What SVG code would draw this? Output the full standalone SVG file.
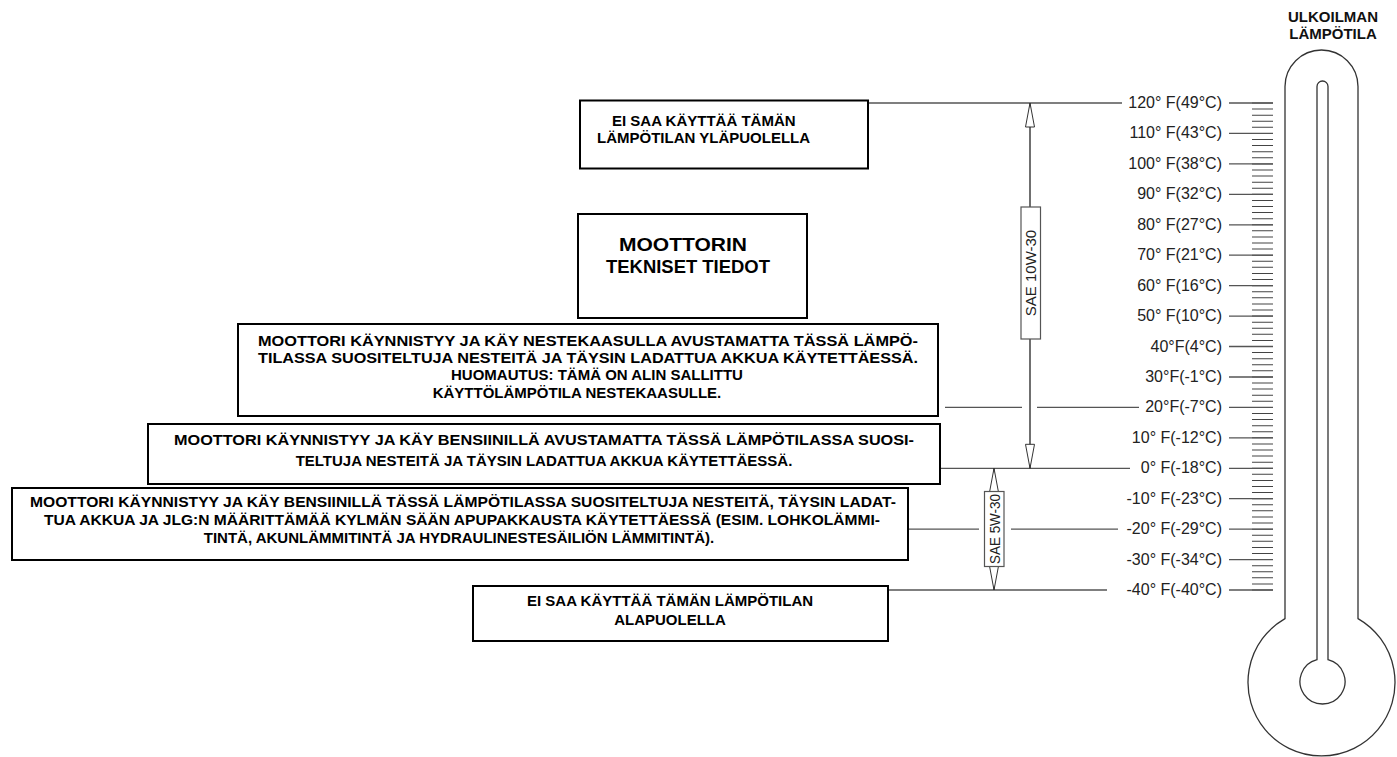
<svg xmlns="http://www.w3.org/2000/svg" width="1397" height="757" viewBox="0 0 1397 757">
<style>
.bx{fill:#fff;stroke:#000;stroke-width:2}
.bt{font-family:"Liberation Sans",Arial,sans-serif;font-weight:bold;font-size:15px;fill:#000;text-anchor:middle}
.bs{font-family:"Liberation Sans",Arial,sans-serif;font-weight:bold;font-size:15px;fill:#000;text-anchor:start}
.big{font-family:"Liberation Sans",Arial,sans-serif;font-weight:bold;font-size:19px;fill:#000;text-anchor:middle}
.tl{font-family:"Liberation Sans",Arial,sans-serif;font-size:16px;fill:#222;text-anchor:end}
.hd{font-family:"Liberation Sans",Arial,sans-serif;font-weight:bold;font-size:15px;fill:#111;text-anchor:middle}
.hl{stroke:#555;stroke-width:1.3;fill:none}
.ar{stroke:#222;stroke-width:1.3;fill:none}
.th{fill:none;stroke:#333;stroke-width:1.3}
.sl{fill:#fff;stroke:#555;stroke-width:1.2}
.st{font-family:"Liberation Sans",Arial,sans-serif;font-size:15px;fill:#222;text-anchor:middle}
</style>
<defs>
<marker id="ah" markerUnits="userSpaceOnUse" markerWidth="26" markerHeight="12" refX="24" refY="5" orient="auto-start-reverse" viewBox="-1 -1 26 12">
<path d="M0,0.5 L24,5 L0,9.5 Z" fill="#fff" stroke="#333" stroke-width="1"/>
</marker>
</defs>

<g id="thermometer">
<path class="th" d="M1285,618.6 V86.5 A36.5,36.5 0 0 1 1358,86.5 V618.6 A73.5,73.5 0 1 1 1285,618.6 Z"/>
<path class="th" d="M1317,659.7 V86.5 A5.5,5.5 0 0 1 1328,86.5 V659.7 A22.5,22.5 0 1 1 1317,659.7 Z"/>
<line x1="1262.5" y1="102.5" x2="1262.5" y2="591" stroke="#444" stroke-width="21" stroke-dasharray="1 5.0875"/>
<text class="hd" x="1333" y="22">ULKOILMAN</text>
<text class="hd" x="1333" y="39">LÄMPÖTILA</text>
</g>

<g id="scale">
<path class="hl" d="M1229,103H1273 M1229,133.4H1273 M1229,163.9H1273 M1229,194.3H1273 M1229,224.8H1273 M1229,255.2H1273 M1229,285.6H1273 M1229,316.1H1273 M1229,346.5H1273 M1229,377H1273 M1229,407.4H1273 M1229,437.8H1273 M1229,468.3H1273 M1229,498.7H1273 M1229,529.2H1273 M1229,559.6H1273 M1229,590H1273"/>
<text class="tl" x="1222" y="108">120° F(49°C)</text>
<text class="tl" x="1222" y="138.4">110° F(43°C)</text>
<text class="tl" x="1222" y="168.9">100° F(38°C)</text>
<text class="tl" x="1222" y="199.3">90° F(32°C)</text>
<text class="tl" x="1222" y="229.8">80° F(27°C)</text>
<text class="tl" x="1222" y="260.2">70° F(21°C)</text>
<text class="tl" x="1222" y="290.6">60° F(16°C)</text>
<text class="tl" x="1222" y="321.1">50° F(10°C)</text>
<text class="tl" x="1222" y="351.5">40°F(4°C)</text>
<text class="tl" x="1222" y="382">30°F(-1°C)</text>
<text class="tl" x="1222" y="412.4">20°F(-7°C)</text>
<text class="tl" x="1222" y="442.8">10° F(-12°C)</text>
<text class="tl" x="1222" y="473.3">0° F(-18°C)</text>
<text class="tl" x="1222" y="503.7">-10° F(-23°C)</text>
<text class="tl" x="1222" y="534.2">-20° F(-29°C)</text>
<text class="tl" x="1222" y="564.6">-30° F(-34°C)</text>
<text class="tl" x="1222" y="595">-40° F(-40°C)</text>
</g>

<g id="connectors">
<path class="hl" d="M869,103H1122 M945,407.4H1022 M1037,407.4H1139 M941,468.3H1130 M909,529.2H979 M1011,529.2H1118 M889,590H1107"/>
<line class="ar" x1="1030" y1="103" x2="1030" y2="468.3" marker-start="url(#ah)" marker-end="url(#ah)"/>
<line class="ar" x1="994" y1="468.3" x2="994" y2="590" marker-start="url(#ah)" marker-end="url(#ah)"/>
</g>

<g id="sae10w30">
<rect class="sl" x="1021" y="207" width="19.5" height="132"/>
<text class="st" transform="translate(1036,273) rotate(-90)">SAE 10W-30</text>
</g>
<g id="sae5w30">
<rect class="sl" x="984.5" y="491.5" width="19.5" height="75"/>
<text class="st" transform="translate(999.5,529) rotate(-90)" textLength="70" lengthAdjust="spacingAndGlyphs">SAE 5W-30</text>
</g>

<g id="box-above">
<rect class="bx" x="580" y="100.5" width="288" height="68"/>
<text class="bs" x="612" y="125.5">EI SAA KÄYTTÄÄ TÄMÄN</text>
<text class="bs" x="597" y="143">LÄMPÖTILAN YLÄPUOLELLA</text>
</g>

<g id="box-engine">
<rect class="bx" x="578" y="214" width="229" height="104"/>
<text class="big" x="683" y="251" textLength="128" lengthAdjust="spacingAndGlyphs">MOOTTORIN</text>
<text class="big" x="688" y="273" textLength="164" lengthAdjust="spacingAndGlyphs">TEKNISET TIEDOT</text>
</g>

<g id="box-lpg">
<rect class="bx" x="238" y="324" width="700" height="92"/>
<text class="bs" x="258" y="346" textLength="660" lengthAdjust="spacingAndGlyphs">MOOTTORI KÄYNNISTYY JA KÄY NESTEKAASULLA AVUSTAMATTA TÄSSÄ LÄMPÖ-</text>
<text class="bs" x="258" y="363" textLength="660" lengthAdjust="spacingAndGlyphs">TILASSA SUOSITELTUJA NESTEITÄ JA TÄYSIN LADATTUA AKKUA KÄYTETTÄESSÄ.</text>
<text class="bt" x="597" y="380">HUOMAUTUS: TÄMÄ ON ALIN SALLITTU</text>
<text class="bt" x="577" y="398">KÄYTTÖLÄMPÖTILA NESTEKAASULLE.</text>
</g>

<g id="box-petrol">
<rect class="bx" x="148" y="424" width="792" height="60"/>
<text class="bt" x="544" y="445" textLength="740" lengthAdjust="spacingAndGlyphs">MOOTTORI KÄYNNISTYY JA KÄY BENSIINILLÄ AVUSTAMATTA TÄSSÄ LÄMPÖTILASSA SUOSI-</text>
<text class="bt" x="544" y="466">TELTUJA NESTEITÄ JA TÄYSIN LADATTUA AKKUA KÄYTETTÄESSÄ.</text>
</g>

<g id="box-cold">
<rect class="bx" x="12" y="488" width="896" height="72"/>
<text class="bt" x="463" y="507" textLength="866" lengthAdjust="spacingAndGlyphs">MOOTTORI KÄYNNISTYY JA KÄY BENSIINILLÄ TÄSSÄ LÄMPÖTILASSA SUOSITELTUJA NESTEITÄ, TÄYSIN LADAT-</text>
<text class="bt" x="462" y="525" textLength="836" lengthAdjust="spacingAndGlyphs">TUA AKKUA JA JLG:N MÄÄRITTÄMÄÄ KYLMÄN SÄÄN APUPAKKAUSTA KÄYTETTÄESSÄ (ESIM. LOHKOLÄMMI-</text>
<text class="bt" x="459" y="543">TINTÄ, AKUNLÄMMITINTÄ JA HYDRAULINESTESÄILIÖN LÄMMITINTÄ).</text>
</g>

<g id="box-below">
<rect class="bx" x="473" y="586" width="415" height="55"/>
<text class="bt" x="670" y="606">EI SAA KÄYTTÄÄ TÄMÄN LÄMPÖTILAN</text>
<text class="bt" x="670" y="625">ALAPUOLELLA</text>
</g>
</svg>
